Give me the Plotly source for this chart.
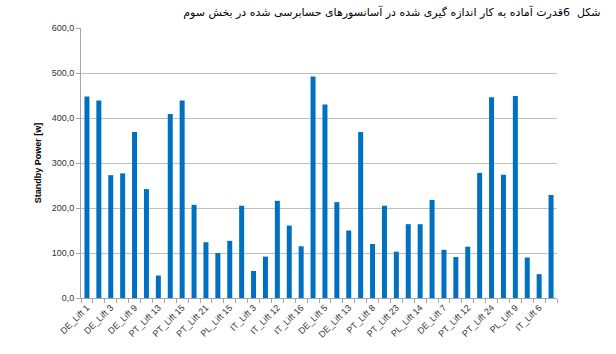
import plotly.graph_objects as go

title_text = "شکل  6قدرت آماده به کار اندازه گیری شده در آسانسورهای حسابرسی شده در بخش سوم"
y_title = "Standby Power [w]"

shown_labels = ["DE_Lift 1", "DE_Lift 3", "DE_Lift 9", "PT_Lift 13", "PT_Lift 15",
                "PT_Lift 21", "PL_Lift 15", "IT_Lift 3", "IT_Lift 12", "IT_Lift 16",
                "DE_Lift 5", "DE_Lift 13", "PT_Lift 8", "PT_Lift 23", "PL_Lift 14",
                "DE_Lift 7", "PT_Lift 12", "PT_Lift 24", "PL_Lift 9", "IT_Lift 6"]
hidden_labels = ["DE_Lift 2", "DE_Lift 8", "DE_Lift 10", "PT_Lift 14", "PT_Lift 16",
                 "PT_Lift 22", "PL_Lift 16", "IT_Lift 4", "IT_Lift 13", "IT_Lift 17",
                 "DE_Lift 6", "DE_Lift 14", "PT_Lift 9", "PT_Lift 25", "PL_Lift 2",
                 "DE_Lift 11", "PT_Lift 20", "PT_Lift 26", "PL_Lift 10", "IT_Lift 7"]
categories = []
for a, b in zip(shown_labels, hidden_labels):
    categories += [a, b]

values = [448, 439, 273, 277, 369, 242, 50, 409, 439, 207,
          124, 100, 127, 205, 60, 92, 216, 161, 115, 492,
          430, 213, 150, 369, 120, 205, 103, 164, 164, 218,
          107, 91, 114, 278, 446, 274, 449, 90, 53, 229]

y_ticks = [0, 100, 200, 300, 400, 500, 600]
y_ticktext = [f"{v:.1f}".replace(".", ",") for v in y_ticks]

idx = list(range(len(categories)))

fig = go.Figure(go.Bar(x=idx, y=values, width=0.42, marker=dict(color="#0070C0", line=dict(width=0)),
                       hovertext=categories))

fig.update_layout(
    width=616, height=354,
    margin=dict(l=81, r=59, t=28, b=56),
    paper_bgcolor="white", plot_bgcolor="white",
    showlegend=False,
    font=dict(family="Liberation Sans, Arial, sans-serif", color="#333333"),
    title=dict(text=title_text, x=0.975, xanchor="right", xref="container",
               y=0.965, yanchor="middle", yref="container",
               font=dict(family="DejaVu Sans, Noto Sans, sans-serif", size=11, color="#000000")),
)

fig.update_xaxes(
    range=[-0.5, len(categories) - 0.5],
    tickmode="array",
    tickvals=idx[::2],
    ticktext=categories[::2],
    tickangle=-45,
    ticks="",
    tickfont=dict(size=9, color="#333333"),
    showgrid=False, zeroline=False,
    showline=True, linecolor="#A6A6A6", linewidth=1,
    minor=dict(ticks="outside", tickmode="linear", tick0=-0.5, dtick=1, ticklen=4,
               tickcolor="#A6A6A6", showgrid=False),
)

fig.update_yaxes(
    range=[0, 600],
    tickmode="array", tickvals=y_ticks, ticktext=y_ticktext,
    ticks="outside", ticklen=4, tickcolor="#A6A6A6",
    tickfont=dict(size=9, color="#333333"),
    showgrid=True, gridcolor="#BFBFBF", gridwidth=1,
    zeroline=False,
    showline=True, linecolor="#A6A6A6", linewidth=1,
    title=dict(text="<b>" + y_title + "</b>", font=dict(size=9, color="#000000"), standoff=8),
)

fig.write_html("out.html")
